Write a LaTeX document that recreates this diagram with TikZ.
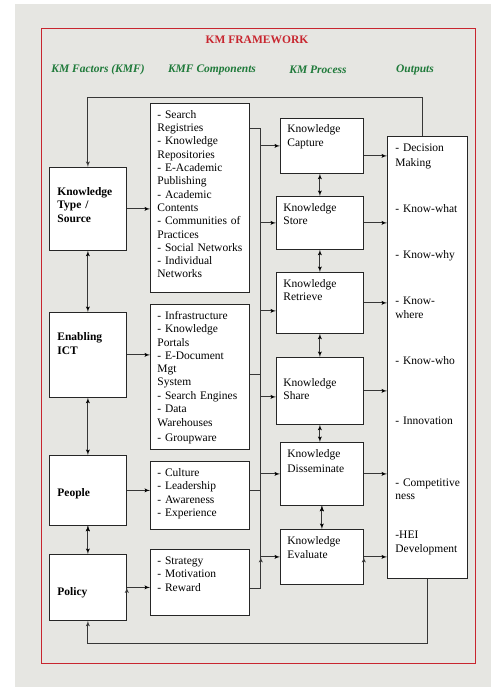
\documentclass[tikz,border=0pt]{standalone}
\usepackage{fontspec}
\setmainfont{Liberation Serif}
\usetikzlibrary{arrows, positioning}

\definecolor{paper}{RGB}{230,230,226}
\definecolor{kmred}{RGB}{200,38,47}
\definecolor{kmgreen}{RGB}{31,122,58}
\definecolor{wire}{RGB}{55,55,55}

\begin{document}
\begin{tikzpicture}[x=1pt, y=-1pt, >=latex', semithick,
    every node/.style={font=\fontsize{11.5}{13.3}\selectfont},
    box/.style={draw=black!85, line width=0.8pt, fill=white, anchor=north west, align=left, inner ysep=0pt, inner xsep=7pt},
    factor/.style={box, inner xsep=8pt, text width=61pt, font=\fontsize{11.5}{13.6}\selectfont\bfseries},
    component/.style={box, text width=85pt},
    process/.style={box, text width=#1},
    header/.style={font=\fontsize{11.5}{13.3}\selectfont\bfseries\itshape, text=kmgreen},
    conn/.style={draw=wire, line width=0.9pt}]

    % page, frame and titles
    \useasboundingbox (0,0) rectangle (491,687);
    \fill[paper] (15,4) rectangle (491,687);
    \draw[kmred, line width=1pt] (41,29) rectangle (475,663);
    \node[text=kmred, font=\fontsize{11.5}{13.3}\selectfont\bfseries] (title) at (257,40) {KM FRAMEWORK};
    \node[header] (hfactor) at (98,70) {KM Factors (KMF)};
    \node[header] (hcomp) at (212,70) {KMF Components};
    \node[header] (hproc) at (318,70) {KM Process};
    \node[header] (hout) at (415,70) {Outputs};

    % KM factors
    \node[factor, text height=28pt, text depth=55pt] (source) at (49,167) {Knowledge\\Type /\\Source};
    \node[factor, text height=28pt, text depth=57pt] (ict) at (49,312) {Enabling\\ICT};
    \node[factor, text height=41pt, text depth=29pt] (people) at (49,455) {People};
    \node[factor, text height=41pt, text depth=25pt] (policy) at (49,554) {Policy};

    % KMF components
    \node[component, text height=15pt, text depth=174pt] (csource) at (150,103)
        {- Search\\Registries\\- Knowledge\\Repositories\\- E-Academic\\Publishing\\- Academic\\Contents\\- Communities of\\Practices\\- Social Networks\\- Individual\\Networks};
    \node[component, text height=15pt, text depth=130pt] (cict) at (150,304)
        {- Infrastructure\\- Knowledge\\Portals\\- E-Document\\Mgt\\System\\- Search Engines\\- Data\\[1pt]Warehouses\\[1.5pt]- Groupware};
    \node[component, text height=15pt, text depth=53pt] (cpeople) at (150,461)
        {- Culture\\- Leadership\\- Awareness\\- Experience};
    \node[component, text height=15pt, text depth=51pt] (cpolicy) at (150,549)
        {- Strategy\\- Motivation\\- Reward};

    % KM process
    \node[process=69pt, text height=14pt, text depth=41pt] (capture) at (280,118) {Knowledge\\[0.7pt]Capture};
    \node[process=73pt, text height=15pt, text depth=38pt] (store) at (276,196) {Knowledge\\[-0.6pt]Store};
    \node[process=73pt, text height=15pt, text depth=46pt] (retrieve) at (276,272) {Knowledge\\[-0.6pt]Retrieve};
    \node[process=73pt, text height=29pt, text depth=38pt] (share) at (276,357) {Knowledge\\Share};
    \node[process=69pt, text height=15pt, text depth=48pt] (dissem) at (280,442) {Knowledge\\[1.4pt]Disseminate};
    \node[process=69pt, text height=15pt, text depth=40pt] (evaluate) at (280,529) {Knowledge\\[0.7pt]Evaluate};

    % outputs
    \node[box, inner xsep=8pt, text width=64pt, text height=15pt, text depth=427pt] (outputs) at (387,136)
        {- Decision\\[2.3pt]Making\\[31.7pt]- Know-what\\[32.7pt]- Know-why\\[33.4pt]- Know-\\[0.7pt]where\\[32pt]- Know-who\\[47.4pt]- Innovation\\[48.4pt]\mbox{- Competitive}\\[-0.7pt]ness\\[25.7pt]-HEI\\[0.7pt]Development};

    % factors
    \path[conn, ->]
    (source.east) edge (source.east -| csource.west)
    (ict.east) edge (ict.east -| cict.west)
    (people.east) edge (people.east -| cpeople.west)
    (policy.east) edge (policy.east -| cpolicy.west);
    \path[conn, <->]
    (source.south) edge (ict.north)
    (ict.south) edge (people.north)
    (people.south) edge (policy.north);

    % feedback from outputs
    \draw[conn, ->] ([xshift=-5pt]outputs.north) |- ([yshift=70pt]source.north) -- (source.north);
    \draw[conn, ->] (outputs.south) |- ([yshift=-23pt]policy.south) -- (policy.south);

    % components into the bus
    \draw[conn] ([yshift=-25pt]csource.north east) -- ++(11,0) coordinate (bus)
        -- ([yshift=-6pt]bus |- cpolicy.east) -- ([yshift=-6pt]cpolicy.east);
    \draw[conn] ([yshift=2pt]cict.east) -- ([yshift=2pt]cict.east -| bus);
    \draw[conn] ([yshift=5pt]cpeople.east) -- ([yshift=5pt]cpeople.east -| bus);

    % bus to process
    \path[conn, ->]
    (bus |- capture.west) edge (capture.west)
    (bus |- store.west) edge (store.west)
    ([yshift=-8pt]bus |- retrieve.west) edge ([yshift=-8pt]retrieve.west)
    ([yshift=-6pt]bus |- share.west) edge ([yshift=-6pt]share.west)
    (bus |- dissem.west) edge (dissem.west)
    (bus |- evaluate.west) edge (evaluate.west);
    \path[conn, <->]
    (store.north) edge (store.north |- capture.south)
    (store.south) edge (retrieve.north)
    (retrieve.south) edge (share.north)
    (share.south) edge (share.south |- dissem.north)
    (dissem.south) edge (evaluate.north);

    % process to outputs
    \path[conn, ->]
    ([yshift=-10pt]capture.east) edge ([yshift=-10pt]capture.east -| outputs.west)
    (store.east) edge (store.east -| outputs.west)
    (retrieve.east) edge (retrieve.east -| outputs.west)
    (share.east) edge (share.east -| outputs.west)
    (dissem.east) edge (dissem.east -| outputs.west)
    (evaluate.east) edge (evaluate.east -| outputs.west);
\end{tikzpicture}
\end{document}
